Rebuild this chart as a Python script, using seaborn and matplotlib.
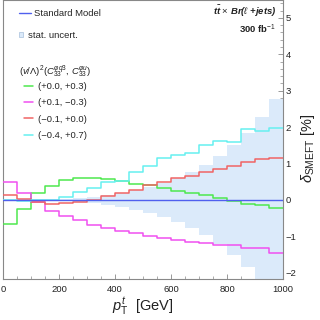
import numpy as np
import pandas as pd
import matplotlib
matplotlib.use('Agg')
import matplotlib.pyplot as plt
import seaborn as sns
from matplotlib.lines import Line2D
from matplotlib.patches import Patch

# pT bin edges [GeV] and per-bin deviations [%]
edges = np.arange(0, 1001, 50)
green   = [-0.66, -0.24, 0.18, 0.38, 0.54, 0.59, 0.60, 0.58, 0.51, 0.45,
           0.41, 0.34, 0.25, 0.20, 0.14, 0.05, -0.03, -0.10, -0.15, -0.22]
magenta = [0.50, 0.20, -0.05, -0.29, -0.43, -0.56, -0.68, -0.77, -0.84, -0.92,
           -0.98, -1.04, -1.09, -1.15, -1.19, -1.24, -1.24, -1.31, -1.33, -1.46]
red     = [0.14, 0.04, -0.06, -0.10, -0.07, -0.05, 0.01, 0.11, 0.19, 0.28,
           0.40, 0.48, 0.59, 0.66, 0.76, 0.85, 0.93, 1.05, 1.12, 1.15]
cyan    = [0.01, -0.04, 0.01, 0.01, 0.09, 0.21, 0.34, 0.50, 0.52, 0.77,
           0.93, 1.16, 1.23, 1.30, 1.52, 1.61, 1.59, 1.94, 1.90, 1.98]
sm      = [0.0] * 20
stat_unc = [0.03, 0.02, 0.02, 0.03, 0.04, 0.05, 0.07, 0.13, 0.20, 0.27,
            0.36, 0.47, 0.60, 0.77, 0.96, 1.21, 1.51, 1.85, 2.29, 2.77]

labels = ['(+0.0, +0.3)', '(+0.1, \u22120.3)', '(\u22120.1, +0.0)', '(\u22120.4, +0.7)']
colors = ['#4ee84e', '#f050f0', '#f06464', '#66f0f0']
c_sm = '#5060ee'
c_band = '#dbeafa'

# step outlines: repeat last bin value at the right edge
def steps(vals):
    return list(vals) + [vals[-1]]

df = pd.DataFrame({'pt': edges, 'sm': steps(sm), 'g': steps(green),
                   'm': steps(magenta), 'r': steps(red), 'c': steps(cyan)})

sns.set_style('ticks')
plt.rcParams['font.family'] = ['Liberation Sans', 'DejaVu Sans']
plt.rcParams['mathtext.fontset'] = 'custom'
plt.rcParams['mathtext.rm'] = 'Liberation Sans'
plt.rcParams['mathtext.it'] = 'Liberation Sans:italic'
plt.rcParams['mathtext.bf'] = 'Liberation Sans:bold:italic'
plt.rcParams['axes.unicode_minus'] = True

fig = plt.figure(figsize=(3.2, 3.2), dpi=100)
ax = fig.add_axes([3/320, 41/320, 280/320, 279/320])

# statistical uncertainty band
unc = np.array(stat_unc)
ax.stairs(unc, edges, baseline=-unc, fill=True, color=c_band, lw=0, zorder=1)

for col, c in zip(['g', 'm', 'r', 'c'], colors):
    sns.lineplot(data=df, x='pt', y=col, drawstyle='steps-post', color=c,
                 linewidth=1.1, ax=ax, zorder=3)
# SM reference
sns.lineplot(data=df, x='pt', y='sm', drawstyle='steps-post', color=c_sm,
             linewidth=1.0, ax=ax, zorder=4)

ax.set_xlim(0, 1000)
ax.set_ylim(-2.17, 5.49)

for s in ax.spines.values():
    s.set_color('#888888')
    s.set_linewidth(0.8)

ax.yaxis.tick_right()
ax.yaxis.set_label_position('right')
ax.set_xticks(np.arange(0, 1001, 200))
ax.set_xticks(np.arange(0, 1001, 50), minor=True)
ax.set_yticks(np.arange(-2, 6, 1))
ax.set_yticks(np.arange(-2.0, 5.5, 0.2), minor=True)
ax.tick_params(axis='both', which='both', direction='in', colors='#888888',
               labelcolor='#222222', labelsize=6.8)
ax.tick_params(axis='both', which='major', length=3.5, width=0.6)
ax.tick_params(axis='both', which='minor', length=2, width=0.5)
ax.tick_params(axis='x', pad=4)
ax.tick_params(axis='y', pad=2)

ax.set_xlabel(r'$p_{\mathrm{T}}^{t}$  [GeV]', fontsize=10.5, color='#222222')
ax.xaxis.set_label_coords(0.5, -0.06)
ax.set_ylabel(r'$\delta_{\mathrm{SMEFT}}$ [%]', fontsize=10.5, color='#222222')
ax.yaxis.set_label_coords(1.056, 0.47)

# legends
leg1 = ax.legend(handles=[Line2D([], [], color=c_sm, lw=1.0)], labels=['Standard Model'],
                 loc='center left', bbox_to_anchor=(16/280, (279-14)/279), frameon=False,
                 fontsize=6.8, handlelength=1.3, handletextpad=0.3, borderpad=0, borderaxespad=0)
ax.add_artist(leg1)
leg2 = ax.legend(handles=[Patch(facecolor=c_band, edgecolor='#a8c0dc', lw=0.5)],
                 labels=['stat. uncert.'],
                 loc='center left', bbox_to_anchor=(16/280, (279-35)/279), frameon=False,
                 fontsize=6.8, handlelength=0.4, handleheight=0.4, handletextpad=0.5,
                 borderpad=0, borderaxespad=0)
ax.add_artist(leg2)
ax.text(16/280, (279-72)/279,
        r'$(v/\Lambda)^2(C_{33}^{\varphi q3},\,C_{33}^{\varphi u})$',
        transform=ax.transAxes, fontsize=6.8, va='center', ha='left', color='#222222')
ax.legend(handles=[Line2D([], [], color=c, lw=1.1) for c in colors], labels=labels,
          loc='upper left', bbox_to_anchor=(21/280, (279-82)/279), frameon=False,
          fontsize=6.8, handlelength=1.0, handletextpad=0.5, labelspacing=0.78,
          borderpad=0, borderaxespad=0)

ax.text(273/280, (279-11)/279, r'$\mathbf{t\bar{t}}$ $\times$ Br($\ell$ +jets)',
        transform=ax.transAxes, fontsize=6.8, ha='right', va='center',
        fontweight='bold', style='italic', color='#222222')
ax.text(273/280, (279-29)/279, r'300 fb$^{-1}$',
        transform=ax.transAxes, fontsize=6.8, ha='right', va='center',
        fontweight='bold', color='#222222')

fig.savefig('out.png', dpi=100)
